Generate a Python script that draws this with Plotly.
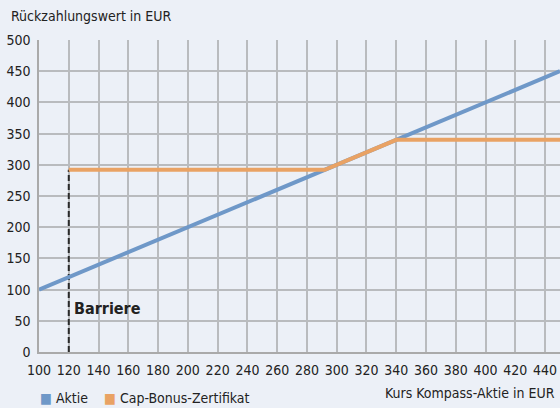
import plotly.graph_objects as go

# Data
aktie_x = [100, 450]
aktie_y = [100, 450]
zert_x = [120, 292, 340, 450]
zert_y = [292, 292, 340, 340]
barrier_x = [120, 120]
barrier_y = [0, 292]
x_ticks = list(range(100, 441, 20))
y_ticks = list(range(0, 501, 50))
series_names = ["Aktie", "Cap-Bonus-Zertifikat"]
colors = ["#6F98C8", "#E9A264"]

FONT = "DejaVu Sans Condensed, Liberation Sans Narrow, sans-serif"
BG = "#ECF0F7"
GRID = "#B9BBBE"

fig = go.Figure()
fig.add_trace(go.Scatter(x=barrier_x, y=barrier_y, mode="lines",
                         line=dict(color="#2A2A2A", width=2, dash="6px,3px"),
                         showlegend=False, hoverinfo="skip"))
fig.add_trace(go.Scatter(x=aktie_x, y=aktie_y, mode="lines", name=series_names[0],
                         line=dict(color=colors[0], width=4), showlegend=False))
fig.add_trace(go.Scatter(x=zert_x, y=zert_y, mode="lines", name=series_names[1],
                         line=dict(color=colors[1], width=4), showlegend=False))

legend_text = (f'<span style="color:{colors[0]}">■</span> {series_names[0]}'
               f'&nbsp;&nbsp;&nbsp;&nbsp;<span style="color:{colors[1]}">■</span> {series_names[1]}')

fig.update_layout(
    width=560, height=408,
    margin=dict(l=39, r=0, t=40, b=56),
    paper_bgcolor=BG, plot_bgcolor=BG,
    font=dict(family=FONT, size=14, color="#222222"),
    showlegend=False,
    xaxis=dict(range=[100, 450], tickvals=x_ticks, showgrid=True, automargin=False,
               gridcolor=GRID, gridwidth=1.5, zeroline=False,
               showline=True, linecolor="#AAAAAA", linewidth=1.5,
               ticks="", tickfont=dict(size=14), ticklabelstandoff=4),
    yaxis=dict(range=[0, 500], tickvals=y_ticks, showgrid=True, automargin=False,
               gridcolor=GRID, gridwidth=1.5, zeroline=False,
               showline=True, linecolor="#AAAAAA", linewidth=1.5,
               ticks="", tickfont=dict(size=14), ticklabelstandoff=4),
    annotations=[
        dict(text="Rückzahlungswert in EUR", xref="paper", yref="paper",
             x=0, y=1.0, xshift=-30, yshift=14, xanchor="left", yanchor="bottom",
             showarrow=False, font=dict(size=14)),
        dict(text="Kurs Kompass-Aktie in EUR", xref="paper", yref="paper",
             x=1.0, y=0, xshift=-3, yshift=-31, xanchor="right", yanchor="top",
             showarrow=False, font=dict(size=14)),
        dict(text="<b>Barriere</b>", xref="x", yref="y",
             x=122, y=70, xanchor="left", yanchor="middle",
             showarrow=False, font=dict(size=16, color="#222222")),
        dict(text=legend_text, xref="paper", yref="paper",
             x=0, y=0, xshift=-1, yshift=-36, xanchor="left", yanchor="top",
             showarrow=False, font=dict(size=14)),
    ],
)
fig.write_html("out.html", config={"displayModeBar": False},
               post_script="document.body.style.margin='0';document.body.style.overflow='hidden';")
